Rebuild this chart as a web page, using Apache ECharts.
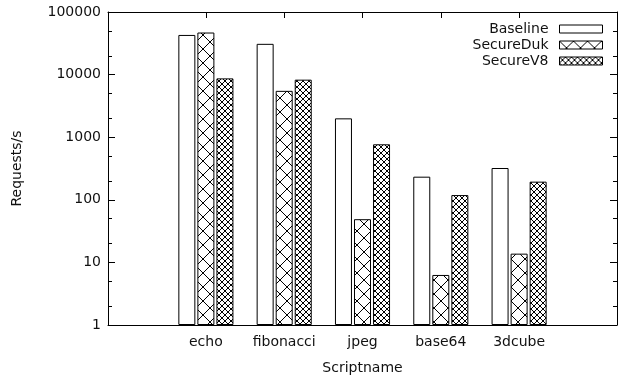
<!DOCTYPE html>
<html>
<head>
<meta charset="utf-8">
<script src="https://cdn.jsdelivr.net/npm/echarts@6/dist/echarts.min.js"></script>
<style>
  html, body { margin: 0; padding: 0; background: #fff; }
  #chart { width: 629px; height: 377px; }
</style>
</head>
<body>
<div id="chart"></div>
<script>
// Requests per second by script, log scale
var scripts = ['echo', 'fibonacci', 'jpeg', 'base64', '3dcube'];
var baseline = [43000, 31000, 2000, 234, 322];
var secureDuk = [47000, 5500, 49, 6.3, 13.8];
var secureV8 = [8700, 8300, 770, 119, 195];
var yMinorTicks = [2, 5, 20, 50, 200, 500, 2000, 5000, 20000, 50000];

(function() {
  'use strict';

  var ink = '#111', font = 'DejaVu Sans';

  // gnuplot style hatch fills
  function hatch(size, width) {
    var c = document.createElement('canvas');
    c.width = size; c.height = size;
    var g = c.getContext('2d');
    g.fillStyle = '#fff';
    g.fillRect(0, 0, size, size);
    g.strokeStyle = '#000';
    g.lineWidth = width;
    g.beginPath();
    g.moveTo(0, 0); g.lineTo(size, size);
    g.moveTo(size, 0); g.lineTo(0, size);
    g.stroke();
    return { image: c, repeat: 'repeat' };
  }

  function toPairs(vals) {
    return vals.map(function(v, i) { return [i, v]; });
  }

  function bar(name, vals, color) {
    return {
      name: name, type: 'bar', xAxisIndex: 0, yAxisIndex: 0,
      data: toPairs(vals), barWidth: 17, barGap: '12%',
      itemStyle: { color: color, borderColor: '#000', borderWidth: 1 },
      emphasis: { disabled: true }
    };
  }

  var catIdx = scripts.map(function(s, i) { return i; });
  var minorLog = yMinorTicks.map(function(v) { return Math.log10(v); });

  function xAxis(pos, labels) {
    return {
      type: 'value', position: pos, min: -1.25, max: 5.25,
      axisLine: { show: true, onZero: false, lineStyle: { color: '#000', width: 1 } },
      axisTick: { show: true, inside: true, length: 6, customValues: catIdx, lineStyle: { color: '#000' } },
      axisLabel: labels ? {
        customValues: catIdx, color: ink, fontFamily: font, fontSize: 14, margin: 10,
        formatter: function(v) { return scripts[Math.round(v)]; }
      } : { show: false },
      splitLine: { show: false },
      name: labels ? 'Scriptname' : '', nameLocation: 'middle', nameGap: 36,
      nameTextStyle: { color: ink, fontFamily: font, fontSize: 14 }
    };
  }

  function yLog(pos, labels) {
    return {
      type: 'log', logBase: 10, position: pos, min: 1, max: 100000,
      axisLine: { show: true, onZero: false, lineStyle: { color: '#000', width: 1 } },
      axisTick: { show: true, inside: true, length: 7, lineStyle: { color: '#000' } },
      axisLabel: labels ? {
        color: ink, fontFamily: font, fontSize: 14, margin: 7,
        formatter: function(v) { return String(Math.round(v)); }
      } : { show: false },
      splitLine: { show: false },
      name: labels ? 'Requests/s' : '', nameLocation: 'middle', nameGap: 84,
      nameTextStyle: { color: ink, fontFamily: font, fontSize: 14 }
    };
  }

  function yMinor(pos) {
    return {
      type: 'value', position: pos, min: 0, max: 5,
      axisLine: { show: false, onZero: false },
      axisTick: { show: true, inside: true, length: 4, customValues: minorLog, lineStyle: { color: '#000' } },
      axisLabel: { show: false },
      splitLine: { show: false }
    };
  }

  var chart = echarts.init(document.getElementById('chart'), null, { renderer: 'canvas' });
  chart.setOption({
    animation: false,
    backgroundColor: '#fff',
    grid: { left: 108, right: 12, top: 12, bottom: 52, outerBoundsMode: 'none' },
    legend: {
      orient: 'vertical', right: 21, top: 17, align: 'right', icon: 'rect',
      itemWidth: 43, itemHeight: 8, itemGap: 2,
      selectedMode: false,
      itemStyle: { borderWidth: 1, borderColor: '#000' },
      textStyle: { color: ink, fontFamily: font, fontSize: 14, lineHeight: 14, width: 90, align: 'right', padding: [0, 6, 0, 0] },
      data: ['Baseline', 'SecureDuk', 'SecureV8']
    },
    xAxis: [xAxis('bottom', true), xAxis('top', false)],
    yAxis: [yLog('left', true), yLog('right', false), yMinor('left'), yMinor('right')],
    series: [
      bar('Baseline', baseline, '#fff'),
      bar('SecureDuk', secureDuk, hatch(14, 1)),
      bar('SecureV8', secureV8, hatch(6, 1))
    ]
  });
})();
</script>
</body>
</html>
